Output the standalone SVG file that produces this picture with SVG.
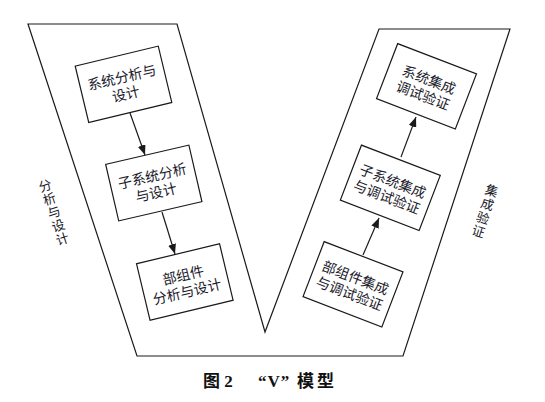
<svg xmlns="http://www.w3.org/2000/svg" width="545" height="402" viewBox="0 0 545 402">
<defs>
<style>
.frame{fill:none;stroke:#1a1a1a;stroke-width:1.2;stroke-linejoin:miter}
.box{fill:#fff;stroke:#1a1a1a;stroke-width:1.2}
.t{font-family:"Noto Sans CJK SC","Liberation Serif",sans-serif;font-size:14px;fill:#1a1a2a;text-anchor:middle}
.side{font-family:"Noto Sans CJK SC",sans-serif;font-size:13px;fill:#1a1a2a;text-anchor:middle;dominant-baseline:central}
.cap{font-family:"Liberation Serif","Noto Sans CJK SC",serif;font-size:17px;font-weight:bold;fill:#111}
.conn{stroke:#1a1a1a;stroke-width:1.2;fill:none}
</style>
<marker id="ah" markerWidth="10" markerHeight="8" refX="10" refY="4" orient="auto" markerUnits="userSpaceOnUse">
<path d="M0,0 L10,4 L0,8 Z" fill="#1a1a1a"/>
</marker>
</defs>
<rect width="545" height="402" fill="#fff"/>
<g id="frame">
<polygon class="frame" points="28,24 177,24 265,332 379,29 510,29 403,356 137,356"/>
</g>
<g id="label-left">
<g transform="translate(45,185) rotate(-18)">
<text class="side" x="0" y="0">分</text>
<text class="side" x="0" y="14">析</text>
<text class="side" x="0" y="28">与</text>
<text class="side" x="0" y="42">设</text>
<text class="side" x="0" y="56">计</text>
</g>
</g>
<g id="label-right">
<g transform="translate(492,190) rotate(18)">
<text class="side" x="0" y="0">集</text>
<text class="side" x="0" y="14.3">成</text>
<text class="side" x="0" y="28.6">验</text>
<text class="side" x="0" y="42.9">证</text>
</g>
</g>
<g id="n1">
<g transform="translate(123.5,84.3) rotate(-13.5)">
<rect class="box" x="-42.7" y="-29" width="85.4" height="58"/>
<text class="t" x="0" y="-2">系统分析与</text>
<text class="t" x="0" y="15">设计</text>
</g>
</g>
<g id="n2">
<g transform="translate(153.8,183) rotate(-13)">
<rect class="box" x="-42.7" y="-29" width="85.4" height="58"/>
<text class="t" x="0" y="-2">子系统分析</text>
<text class="t" x="0" y="15">与设计</text>
</g>
</g>
<g id="n3">
<g transform="translate(184.8,282) rotate(-13.5)">
<rect class="box" x="-42.7" y="-29" width="85.4" height="58"/>
<text class="t" x="0" y="-2">部组件</text>
<text class="t" x="0" y="15">分析与设计</text>
</g>
</g>
<g id="n4">
<g transform="translate(426.5,86.3) rotate(21)">
<rect class="box" x="-42.2" y="-29.5" width="84.4" height="59"/>
<text class="t" x="0" y="-2">系统集成</text>
<text class="t" x="0" y="15">调试验证</text>
</g>
</g>
<g id="n5">
<g transform="translate(390.3,187.8) rotate(21)">
<rect class="box" x="-42.2" y="-29.5" width="84.4" height="59"/>
<text class="t" x="0" y="-2">子系统集成</text>
<text class="t" x="0" y="15">与调试验证</text>
</g>
</g>
<g id="n6">
<g transform="translate(353,284.3) rotate(21)">
<rect class="box" x="-42.2" y="-29.5" width="84.4" height="59"/>
<text class="t" x="0" y="-2">部组件集成</text>
<text class="t" x="0" y="15">与调试验证</text>
</g>
</g>
<g id="connectors">
<line class="conn" x1="130" y1="113" x2="145" y2="155" marker-end="url(#ah)"/>
<line class="conn" x1="162" y1="212" x2="175" y2="254" marker-end="url(#ah)"/>
<line class="conn" x1="363" y1="255" x2="379" y2="218" marker-end="url(#ah)"/>
<line class="conn" x1="401" y1="157" x2="416" y2="117" marker-end="url(#ah)"/>
</g>
<g id="caption">
<text class="cap" x="203" y="387">图 2</text>
<text class="cap" x="258" y="387" letter-spacing="1">“V”</text>
<text class="cap" x="297" y="387" letter-spacing="3">模型</text>
</g>
</svg>
